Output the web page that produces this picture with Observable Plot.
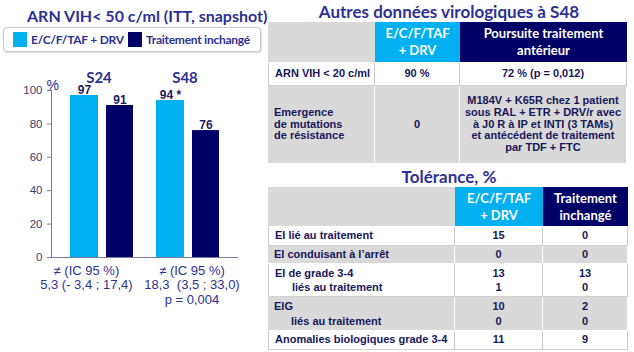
<!DOCTYPE html>
<html>
<head>
<meta charset="utf-8">
<script src="https://cdn.jsdelivr.net/npm/d3@7"></script>
<script src="https://cdn.jsdelivr.net/npm/@observablehq/plot@0.6"></script>
<style>
  html, body { margin: 0; padding: 0; background: #fff; }
  #page { position: relative; width: 634px; height: 352px; overflow: hidden; font-family: "Liberation Sans", Arial, sans-serif; }
  .title { position: absolute; font-family: Lato, sans-serif; font-weight: 700; color: #2e3192; white-space: nowrap; }
  #legend { position: absolute; left: 3px; top: 27px; width: 258px; height: 25px; border: 1px solid #c9c9c9; border-radius: 4px; box-shadow: 1px 1px 2px rgba(0,0,0,0.15); box-sizing: border-box; }
  .sw { position: absolute; top: 4px; width: 14px; height: 15px; }
  .lt { position: absolute; top: 3px; font-family: Lato, sans-serif; font-weight: 700; font-size: 12px; letter-spacing: -0.25px; line-height: 17px; color: #2e3192; white-space: nowrap; }
  #chart { position: absolute; left: 0; top: 58px; }
  table { position: absolute; border-collapse: separate; border-spacing: 0; table-layout: fixed; }
  td { padding: 0; font-family: "Liberation Sans", Arial, sans-serif; font-weight: 700; font-size: 11px; color: #17175a; text-align: center; vertical-align: middle; line-height: 11.7px; box-sizing: border-box; }
  td.l { text-align: left; padding-left: 6px; }
  tr.h td { font-family: Lato, sans-serif; font-size: 13px; line-height: 17px; color: #fff; border-bottom: 1px solid #fff; }
  tr.h td.g { background: #d9d9d9; }
  tr.h td.b { background: #00b0f0; }
  tr.h td.n { background: #000066; }
  tr.w td { background: #fff; border-right: 1px solid #c8c8c8; border-bottom: 1px solid #d0d0d0; }
  tr.w td:first-child { border-left: 1px solid #c8c8c8; }
  tr.gr td { background: #d9d9d9; border-right: 1px solid #fff; border-bottom: 1px solid #fff; }
  .ind { padding-left: 17px; }
</style>
</head>
<body>
<div id="page">
  <div class="title" id="t1" style="left:27px; top:6px; font-size:16px;">ARN VIH&lt; 50 c/ml (ITT, snapshot)</div>
  <div id="legend"></div>
  <div id="chart"></div>
  <div class="title" id="t2" style="left:268px; width:362px; text-align:center; top:1px; font-size:17px;">Autres données virologiques à S48</div>
  <div class="title" id="t3" style="left:268px; width:362px; text-align:center; top:166px; font-size:17px;">Tolérance, %</div>
  <div id="tables"></div>
</div>
<script>
// ---- Bar chart data ----
const weeks = ["S24", "S48"];
const groups = ["E/C/F/TAF + DRV", "Traitement inchangé"];
const groupColors = ["#00b0f0", "#000066"];
const pctSwitch = [97, 94];
const pctUnchanged = [91, 76];
const switchMarks = ["", " *"];
const yTicks = [0, 20, 40, 60, 80, 100];
const diffText = [
  "≠ (IC 95 %)\n5,3 (- 3,4 ; 17,4)",
  "≠ (IC 95 %)\n18,3  (3,5 ; 33,0)\np = 0,004"
];

// ---- Table data ----
const viroCols = ["", "E/C/F/TAF\n+ DRV", "Poursuite traitement\nantérieur"];
const viroRows = [
  ["ARN VIH < 20 c/ml", "90 %", "72 % (p = 0,012)"],
  ["Emergence\nde mutations\nde résistance", "0", "M184V + K65R chez 1 patient\nsous RAL + ETR + DRV/r avec\nà J0 R à IP et INTI (3 TAMs)\net antécédent de traitement\npar TDF + FTC"]
];
const tolCols = ["", "E/C/F/TAF\n+ DRV", "Traitement\ninchangé"];
const tolLabels = ["EI lié au traitement", "EI conduisant à l’arrêt", "EI de grade 3-4|liés au traitement", "EIG|liés au traitement", "Anomalies biologiques grade 3-4"];
const tolSwitch = ["15", "0", "13|1", "10|0", "11"];
const tolUnchanged = ["0", "0", "13|0", "2|0", "9"];

// ---- Legend ----
const legend = document.getElementById("legend");
const swLeft = [9, 124], txLeft = [27, 142];
groups.forEach((g, i) => {
  const s = document.createElement("div");
  s.className = "sw"; s.style.left = swLeft[i] + "px"; s.style.background = groupColors[i];
  legend.appendChild(s);
  const t = document.createElement("div");
  t.className = "lt"; t.style.left = txLeft[i] + "px"; t.textContent = g;
  legend.appendChild(t);
});

// ---- Chart ----
const bars = weeks.flatMap((w, i) => [
  {week: w, group: groups[0], value: pctSwitch[i], label: pctSwitch[i] + switchMarks[i]},
  {week: w, group: groups[1], value: pctUnchanged[i], label: String(pctUnchanged[i])}
]);
const barsA = bars.filter(d => d.group === groups[0]);
const barsB = bars.filter(d => d.group === groups[1]);
const diffs = weeks.map((w, i) => ({week: w, text: diffText[i]}));
const txtColor = "#2e3192";

const chart = Plot.plot({
  width: 260,
  height: 250,
  marginLeft: 51,
  marginRight: 23,
  marginTop: 32,
  marginBottom: 51,
  style: {fontFamily: "'Liberation Sans', Arial, sans-serif", color: "#7a7aa0", background: "transparent", overflow: "visible"},
  x: {domain: weeks, paddingInner: 0.0857, paddingOuter: 0.114, line: true, tickSize: 0, tickFormat: () => "", label: null},
  y: {domain: [0, 100], ticks: yTicks, tickSize: 4, tickPadding: 5, line: true, label: null},
  color: {domain: groups, range: groupColors},
  marks: [
    Plot.barY(barsA, {x: "week", y: "value", fill: "group", insetLeft: 8, insetRight: 43}),
    Plot.barY(barsB, {x: "week", y: "value", fill: "group", insetLeft: 44, insetRight: 8}),
    Plot.text(barsA, {x: "week", y: "value", text: "label", dx: -17.5, dy: -2, lineAnchor: "bottom", fontWeight: "bold", fontSize: 12, fill: "#1c1c5e"}),
    Plot.text(barsB, {x: "week", y: "value", text: "label", dx: 18, dy: -2, lineAnchor: "bottom", fontWeight: "bold", fontSize: 12, fill: "#1c1c5e"}),
    Plot.text(weeks, {x: d => d, frameAnchor: "top", dy: -18, dx: -3, fontSize: 15, fontWeight: "bold", fontFamily: "Lato, sans-serif", fill: txtColor}),
    Plot.text(["%"], {frameAnchor: "top-left", dx: -5, dy: -10, fontSize: 14, fill: txtColor}),
    Plot.text(diffs.slice(0, 1), {x: "week", y: () => 0, text: "text", lineAnchor: "top", dy: 7, dx: -15.6, fontSize: 13, lineHeight: 1.12, fill: txtColor}),
    Plot.text(diffs.slice(1), {x: "week", y: () => 0, text: "text", lineAnchor: "top", dy: 7, dx: 4, fontSize: 13, lineHeight: 1.12, fill: txtColor})
  ]
});
chart.querySelectorAll("g[aria-label='y-axis tick label']").forEach(e => { e.setAttribute("fill", "#3c3c70"); e.setAttribute("font-size", "11.5"); });
document.getElementById("chart").appendChild(chart);

// ---- Tables ----
const br = s => s.split("\n").map(x => x.replace(/&/g, "&amp;").replace(/</g, "&lt;")).join("<br>");
function viroTable() {
  const rowH = [41, 23, 78];
  let h = `<table style="left:268px; top:22px; width:359px;"><colgroup><col style="width:107px"><col style="width:85px"><col style="width:167px"></colgroup>`;
  h += `<tr class="h" style="height:${rowH[0]}px"><td class="g">${br(viroCols[0])}</td><td class="b">${br(viroCols[1])}</td><td class="n">${br(viroCols[2])}</td></tr>`;
  viroRows.forEach((r, i) => {
    h += `<tr class="${i % 2 === 0 ? "w" : "gr"}" style="height:${rowH[i + 1]}px"><td class="l">${br(r[0])}</td><td>${br(r[1])}</td><td>${br(r[2])}</td></tr>`;
  });
  return h + `</table>`;
}
function tolTable() {
  const rowH = [40, 19, 18, 33, 34, 19];
  let h = `<table style="left:268px; top:187px; width:360px;"><colgroup><col style="width:187px"><col style="width:88px"><col style="width:85px"></colgroup>`;
  h += `<tr class="h" style="height:${rowH[0]}px"><td class="g">${br(tolCols[0])}</td><td class="b">${br(tolCols[1])}</td><td class="n">${br(tolCols[2])}</td></tr>`;
  tolLabels.forEach((lab, i) => {
    const parts = lab.split("|");
    const labHtml = parts.length > 1 ? `${br(parts[0])}<br><span class="ind">${br(parts[1])}</span>` : br(lab);
    const v1 = tolSwitch[i].split("|").join("<br>");
    const v2 = tolUnchanged[i].split("|").join("<br>");
    const lh = parts.length > 1 ? "line-height:14.5px;" : "";
    h += `<tr class="${i % 2 === 0 ? "w" : "gr"}" style="height:${rowH[i + 1]}px"><td class="l" style="${lh}">${labHtml}</td><td style="${lh}">${v1}</td><td style="${lh}">${v2}</td></tr>`;
  });
  return h + `</table>`;
}
document.getElementById("tables").innerHTML = viroTable() + tolTable();
</script>
</body>
</html>
